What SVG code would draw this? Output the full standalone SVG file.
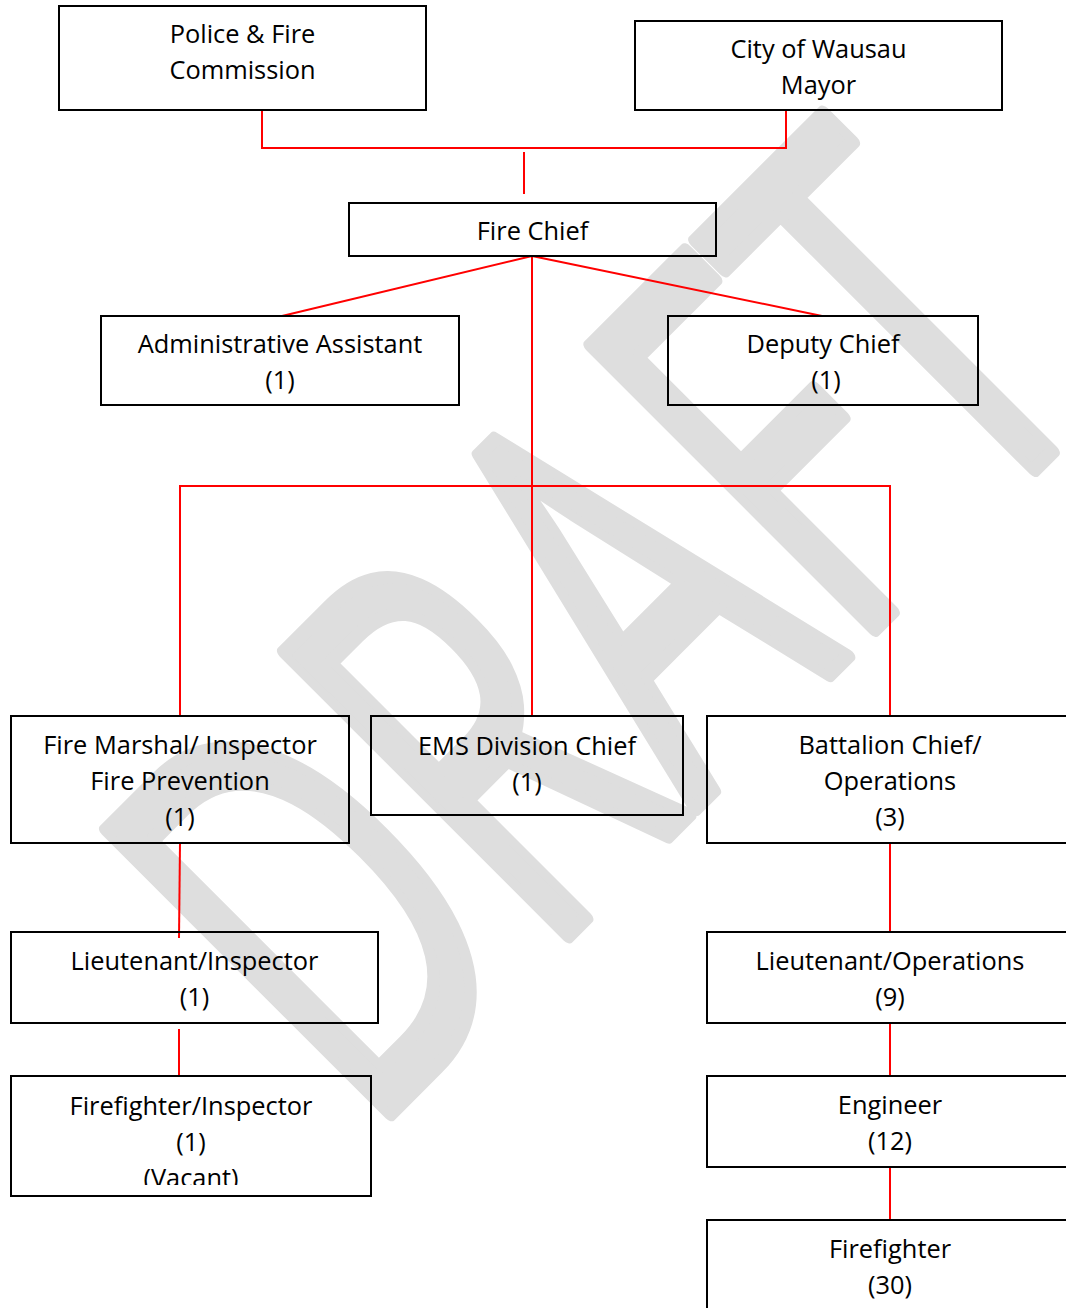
<svg xmlns="http://www.w3.org/2000/svg" width="1066" height="1308" viewBox="0 0 1066 1308">
<style>
.box{fill:none;stroke:#000;stroke-width:2}
.lbl{font-family:"Open Sans","Liberation Sans",sans-serif;font-size:25.4px;fill:#000;text-anchor:middle}
.con{stroke:#ff0000;stroke-width:2;fill:none}
.wm{font-family:"Open Sans","Liberation Sans",sans-serif;font-size:598px;fill:#dedede;stroke:#dedede;stroke-width:16;stroke-linejoin:round;text-anchor:middle}
</style>
<defs>
<clipPath id="clipVacant"><rect x="11" y="1076" width="360" height="109"/></clipPath>
</defs>
<rect width="1066" height="1308" fill="#fff"/>
<g id="watermark">
<text class="wm" transform="translate(738 766) rotate(-45) scale(0.58 0.94)" x="0" y="0">DRAFT</text>
</g>
<g id="connectors">
<polyline class="con" points="262,110 262,148 786,148 786,110"/>
<line class="con" x1="524" y1="152" x2="524" y2="194"/>
<line class="con" x1="532" y1="256" x2="282" y2="316"/>
<line class="con" x1="532" y1="256" x2="822" y2="316"/>
<line class="con" x1="532" y1="256" x2="532" y2="716"/>
<polyline class="con" points="180,716 180,486 890,486 890,716"/>
<line class="con" x1="180" y1="843" x2="179" y2="938"/>
<line class="con" x1="179" y1="1029" x2="179" y2="1076"/>
<line class="con" x1="890" y1="843" x2="890" y2="932"/>
<line class="con" x1="890" y1="1023" x2="890" y2="1076"/>
<line class="con" x1="890" y1="1167" x2="890" y2="1220"/>
</g>
<g id="police-fire-commission">
<rect class="box" x="59" y="6" width="367" height="104"/>
<text class="lbl" x="242.5" y="43">Police &amp; Fire</text>
<text class="lbl" x="242.5" y="79">Commission</text>
</g>
<g id="mayor">
<rect class="box" x="635" y="21" width="367" height="89"/>
<text class="lbl" x="818.5" y="58">City of Wausau</text>
<text class="lbl" x="818.5" y="94">Mayor</text>
</g>
<g id="fire-chief">
<rect class="box" x="349" y="203" width="367" height="53"/>
<text class="lbl" x="532.5" y="240">Fire Chief</text>
</g>
<g id="admin-assistant">
<rect class="box" x="101" y="316" width="358" height="89"/>
<text class="lbl" x="280" y="353">Administrative Assistant</text>
<text class="lbl" x="280" y="389">(1)</text>
</g>
<g id="deputy-chief">
<rect class="box" x="668" y="316" width="310" height="89"/>
<text class="lbl" x="823" y="353">Deputy Chief</text>
<text class="lbl" x="826" y="389">(1)</text>
</g>
<g id="fire-marshal">
<rect class="box" x="11" y="716" width="338" height="127"/>
<text class="lbl" x="180" y="754">Fire Marshal/ Inspector</text>
<text class="lbl" x="180" y="790">Fire Prevention</text>
<text class="lbl" x="180" y="826">(1)</text>
</g>
<g id="ems-division-chief">
<rect class="box" x="371" y="716" width="312" height="99"/>
<text class="lbl" x="527" y="755">EMS Division Chief</text>
<text class="lbl" x="527" y="791">(1)</text>
</g>
<g id="battalion-chief">
<rect class="box" x="707" y="716" width="366" height="127"/>
<text class="lbl" x="890" y="754">Battalion Chief/</text>
<text class="lbl" x="890" y="790">Operations</text>
<text class="lbl" x="890" y="826">(3)</text>
</g>
<g id="lieutenant-inspector">
<rect class="box" x="11" y="932" width="367" height="91"/>
<text class="lbl" x="194.5" y="970">Lieutenant/Inspector</text>
<text class="lbl" x="194.5" y="1006">(1)</text>
</g>
<g id="firefighter-inspector">
<rect class="box" x="11" y="1076" width="360" height="120"/>
<g clip-path="url(#clipVacant)">
<text class="lbl" x="191" y="1115">Firefighter/Inspector</text>
<text class="lbl" x="191" y="1151">(1)</text>
<text class="lbl" x="191" y="1187">(Vacant)</text>
</g>
</g>
<g id="lieutenant-operations">
<rect class="box" x="707" y="932" width="366" height="91"/>
<text class="lbl" x="890" y="970">Lieutenant/Operations</text>
<text class="lbl" x="890" y="1006">(9)</text>
</g>
<g id="engineer">
<rect class="box" x="707" y="1076" width="366" height="91"/>
<text class="lbl" x="890" y="1114">Engineer</text>
<text class="lbl" x="890" y="1150">(12)</text>
</g>
<g id="firefighter">
<rect class="box" x="707" y="1220" width="366" height="100"/>
<text class="lbl" x="890" y="1258">Firefighter</text>
<text class="lbl" x="890" y="1294">(30)</text>
</g>
</svg>
